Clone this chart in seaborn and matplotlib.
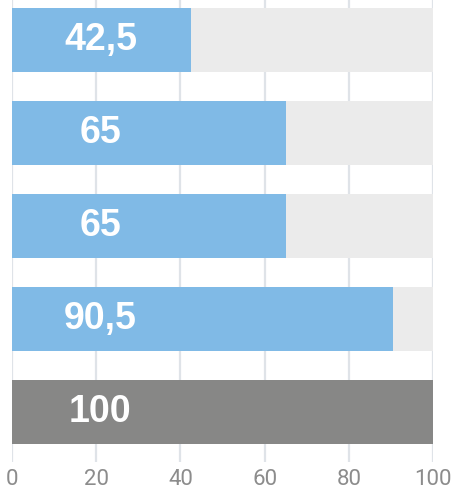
import matplotlib
matplotlib.use("Agg")
import matplotlib.pyplot as plt
import pandas as pd
import seaborn as sns

# ------------------------------------------------------------
# data
# ------------------------------------------------------------
categories = ["Row 1", "Row 2", "Row 3", "Row 4", "Row 5"]
values = [42.5, 65, 65, 90.5, 100]
value_labels = ["42,5", "65", "65", "90,5", "100"]
bar_colors = ["#80bae6", "#80bae6", "#80bae6", "#80bae6", "#878786"]
max_value = 100
xticks = [0, 20, 40, 60, 80, 100]

df = pd.DataFrame({"category": categories, "value": values,
                   "max": [max_value] * len(categories)})

sns.set_style("white")
plt.rcParams["font.family"] = ["Liberation Sans", "DejaVu Sans"]

fig = plt.figure(figsize=(4.54, 4.92), dpi=100)
ax = fig.add_axes([12 / 454, 30 / 492, 421 / 454, 462 / 492])

# grey track behind each bar, then the value bars
sns.barplot(data=df, y="category", x="max", color="#ebebeb", width=0.69,
            orient="h", ax=ax)
sns.barplot(data=df, y="category", x="value", hue="category",
            palette=bar_colors, legend=False, width=0.69, orient="h",
            saturation=1, ax=ax)
for patch in ax.patches:
    patch.set_linewidth(0)

for i, lab in enumerate(value_labels):
    ax.text(21, i, lab, ha="center", va="center", color="white",
            fontsize=27, fontweight="bold")

ax.set_xlim(0, max_value)
ax.set_ylim(4.54, -0.43)
ax.set_xticks(xticks)
ax.set_xticklabels([str(t) for t in xticks], fontsize=16, color="#8c8c8c",
                   family=["Roboto", "DejaVu Sans"])
ax.set_yticks([])
ax.set_xlabel("")
ax.set_ylabel("")
ax.tick_params(axis="x", length=0, pad=5)
ax.set_axisbelow(True)
ax.xaxis.grid(True, color="#dfe3e8", linewidth=1.6)
ax.yaxis.grid(False)
sns.despine(ax=ax, left=True, bottom=True)

fig.savefig("out.png", dpi=100)
